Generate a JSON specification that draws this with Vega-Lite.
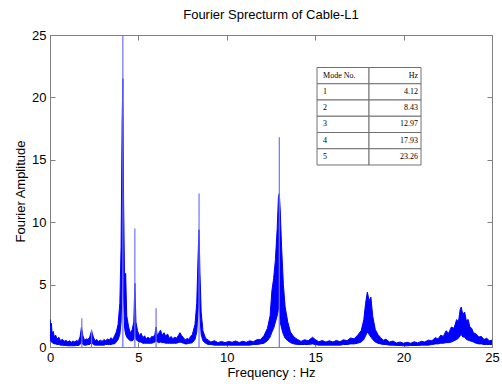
{
  "$schema": "https://vega.github.io/schema/vega-lite/v6.json",
  "width": 442,
  "height": 312,
  "autosize": "none",
  "padding": {"left": 50, "top": 35, "right": 10, "bottom": 42},
  "background": "white",
  "config": {
    "font": "Liberation Sans",
    "view": {"stroke": "#808080", "strokeWidth": 1},
    "axis": {"grid": false, "domainColor": "#808080", "tickColor": "#808080", "labelColor": "black", "titleColor": "black", "labelFont": "Liberation Sans", "titleFont": "Liberation Sans", "labelFontSize": 13, "titleFontSize": 13, "titleFontWeight": "normal", "tickSize": -5}
  },
  "title": {"text": "Fourier Sprecturm of Cable-L1", "font": "Liberation Sans", "fontSize": 13, "fontWeight": "normal", "color": "black", "anchor": "middle", "offset": 7},
  "datasets": {
    "spec": [
      {"f":0.00,"lo":0.6,"hi":2.2},{"f":0.04,"lo":0.5,"hi":1.6},{"f":0.08,"lo":0.4,"hi":1.9},{"f":0.12,"lo":0.35,"hi":1.1},
      {"f":0.18,"lo":0.3,"hi":1.25},{"f":0.25,"lo":0.25,"hi":0.8},{"f":0.32,"lo":0.25,"hi":0.95},{"f":0.40,"lo":0.2,"hi":0.65},
      {"f":0.50,"lo":0.2,"hi":0.78},{"f":0.60,"lo":0.15,"hi":0.5},{"f":0.70,"lo":0.15,"hi":0.62},{"f":0.80,"lo":0.12,"hi":0.45},
      {"f":0.90,"lo":0.12,"hi":0.55},{"f":1.00,"lo":0.1,"hi":0.4},{"f":1.10,"lo":0.1,"hi":0.5},{"f":1.20,"lo":0.1,"hi":0.38},
      {"f":1.30,"lo":0.1,"hi":0.48},{"f":1.40,"lo":0.1,"hi":0.4},{"f":1.50,"lo":0.12,"hi":0.52},{"f":1.60,"lo":0.12,"hi":0.45},
      {"f":1.70,"lo":0.2,"hi":0.8},{"f":1.78,"lo":0.5,"hi":1.6},{"f":1.86,"lo":0.2,"hi":0.9},{"f":1.95,"lo":0.15,"hi":0.55},
      {"f":2.05,"lo":0.15,"hi":0.65},{"f":2.15,"lo":0.2,"hi":0.6},{"f":2.25,"lo":0.2,"hi":0.8},{"f":2.35,"lo":0.4,"hi":1.3},
      {"f":2.45,"lo":0.2,"hi":0.8},{"f":2.55,"lo":0.15,"hi":0.5},{"f":2.65,"lo":0.15,"hi":0.6},{"f":2.75,"lo":0.15,"hi":0.45},
      {"f":2.85,"lo":0.15,"hi":0.55},{"f":2.95,"lo":0.15,"hi":0.45},{"f":3.05,"lo":0.15,"hi":0.6},{"f":3.15,"lo":0.2,"hi":0.5},
      {"f":3.25,"lo":0.2,"hi":0.65},{"f":3.35,"lo":0.2,"hi":0.55},{"f":3.45,"lo":0.2,"hi":0.75},{"f":3.55,"lo":0.25,"hi":0.6},
      {"f":3.65,"lo":0.25,"hi":0.9},{"f":3.75,"lo":0.4,"hi":1.2},{"f":3.85,"lo":0.6,"hi":1.8},{"f":3.95,"lo":1.0,"hi":3.5},
      {"f":4.02,"lo":2.0,"hi":8.0},{"f":4.08,"lo":5.0,"hi":18.0},{"f":4.12,"lo":8.0,"hi":21.5},{"f":4.16,"lo":4.0,"hi":12.0},
      {"f":4.22,"lo":1.5,"hi":5.0},{"f":4.28,"lo":1.0,"hi":5.9},{"f":4.34,"lo":0.8,"hi":2.5},{"f":4.45,"lo":0.6,"hi":1.6},
      {"f":4.55,"lo":0.5,"hi":1.1},{"f":4.65,"lo":0.5,"hi":1.4},{"f":4.74,"lo":0.6,"hi":2.0},{"f":4.80,"lo":1.5,"hi":5.1},
      {"f":4.86,"lo":0.6,"hi":2.0},{"f":4.95,"lo":0.5,"hi":1.3},{"f":5.05,"lo":0.4,"hi":0.9},{"f":5.15,"lo":0.4,"hi":1.1},
      {"f":5.25,"lo":0.3,"hi":0.75},{"f":5.35,"lo":0.3,"hi":0.9},{"f":5.45,"lo":0.3,"hi":0.65},{"f":5.55,"lo":0.3,"hi":0.8},
      {"f":5.65,"lo":0.3,"hi":0.65},{"f":5.75,"lo":0.3,"hi":0.85},{"f":5.85,"lo":0.35,"hi":0.8},{"f":5.93,"lo":0.4,"hi":1.0},
      {"f":6.00,"lo":0.5,"hi":1.6},{"f":6.07,"lo":0.4,"hi":0.9},{"f":6.15,"lo":0.35,"hi":1.1},{"f":6.25,"lo":0.4,"hi":1.35},
      {"f":6.35,"lo":0.35,"hi":0.95},{"f":6.45,"lo":0.35,"hi":1.15},{"f":6.55,"lo":0.3,"hi":0.85},{"f":6.65,"lo":0.3,"hi":1.05},
      {"f":6.75,"lo":0.3,"hi":0.7},{"f":6.85,"lo":0.3,"hi":0.85},{"f":6.95,"lo":0.3,"hi":0.65},{"f":7.05,"lo":0.3,"hi":0.8},
      {"f":7.15,"lo":0.3,"hi":0.7},{"f":7.25,"lo":0.35,"hi":0.9},{"f":7.35,"lo":0.4,"hi":1.15},{"f":7.45,"lo":0.35,"hi":0.9},
      {"f":7.55,"lo":0.3,"hi":0.75},{"f":7.65,"lo":0.25,"hi":0.55},{"f":7.75,"lo":0.25,"hi":0.7},{"f":7.85,"lo":0.3,"hi":0.6},
      {"f":7.95,"lo":0.3,"hi":0.85},{"f":8.05,"lo":0.35,"hi":1.0},
      {"f":8.20,"lo":0.6,"hi":1.8},{"f":8.30,"lo":1.2,"hi":3.5},{"f":8.38,"lo":3.0,"hi":7.5},{"f":8.43,"lo":5.0,"hi":9.4},
      {"f":8.48,"lo":2.5,"hi":6.0},{"f":8.55,"lo":1.0,"hi":2.8},{"f":8.65,"lo":0.5,"hi":1.3},{"f":8.80,"lo":0.3,"hi":0.7},
      {"f":8.95,"lo":0.2,"hi":0.55},{"f":9.10,"lo":0.2,"hi":0.4},{"f":9.30,"lo":0.15,"hi":0.5},{"f":9.50,"lo":0.15,"hi":0.35},
      {"f":9.70,"lo":0.15,"hi":0.45},{"f":9.90,"lo":0.15,"hi":0.35},{"f":10.10,"lo":0.15,"hi":0.45},{"f":10.30,"lo":0.15,"hi":0.38},
      {"f":10.50,"lo":0.15,"hi":0.48},{"f":10.70,"lo":0.15,"hi":0.36},{"f":10.90,"lo":0.15,"hi":0.46},{"f":11.10,"lo":0.15,"hi":0.38},
      {"f":11.30,"lo":0.15,"hi":0.5},{"f":11.50,"lo":0.2,"hi":0.42},{"f":11.70,"lo":0.2,"hi":0.58},{"f":11.90,"lo":0.25,"hi":0.6},
      {"f":12.10,"lo":0.3,"hi":0.9},{"f":12.30,"lo":0.5,"hi":1.5},{"f":12.45,"lo":0.8,"hi":2.5},
      {"f":12.55,"lo":1.2,"hi":4.5},{"f":12.65,"lo":1.5,"hi":5.5},{"f":12.75,"lo":2.0,"hi":7.0},{"f":12.85,"lo":2.5,"hi":9.5},
      {"f":12.92,"lo":3.0,"hi":12.0},{"f":12.97,"lo":3.5,"hi":12.3},{"f":13.02,"lo":2.0,"hi":11.0},{"f":13.10,"lo":1.5,"hi":8.0},
      {"f":13.20,"lo":1.0,"hi":5.0},{"f":13.30,"lo":0.7,"hi":3.2},{"f":13.45,"lo":0.5,"hi":2.0},{"f":13.60,"lo":0.35,"hi":1.2},
      {"f":13.80,"lo":0.25,"hi":0.8},{"f":14.00,"lo":0.2,"hi":0.6},{"f":14.20,"lo":0.2,"hi":0.45},{"f":14.40,"lo":0.2,"hi":0.58},
      {"f":14.60,"lo":0.2,"hi":0.5},{"f":14.85,"lo":0.25,"hi":0.78},{"f":15.00,"lo":0.2,"hi":0.6},{"f":15.20,"lo":0.15,"hi":0.42},
      {"f":15.40,"lo":0.15,"hi":0.52},{"f":15.60,"lo":0.15,"hi":0.4},{"f":15.80,"lo":0.15,"hi":0.5},{"f":16.00,"lo":0.15,"hi":0.4},
      {"f":16.20,"lo":0.15,"hi":0.52},{"f":16.40,"lo":0.15,"hi":0.42},{"f":16.60,"lo":0.2,"hi":0.58},{"f":16.80,"lo":0.2,"hi":0.5},
      {"f":17.00,"lo":0.25,"hi":0.72},{"f":17.20,"lo":0.25,"hi":0.65},{"f":17.40,"lo":0.3,"hi":0.95},
      {"f":17.60,"lo":0.4,"hi":1.3},{"f":17.75,"lo":0.6,"hi":2.2},{"f":17.85,"lo":0.9,"hi":3.5},
      {"f":17.95,"lo":1.2,"hi":4.4},{"f":18.05,"lo":1.0,"hi":3.7},{"f":18.15,"lo":0.8,"hi":4.0},{"f":18.25,"lo":0.6,"hi":2.5},
      {"f":18.40,"lo":0.4,"hi":1.4},{"f":18.55,"lo":0.3,"hi":1.0},{"f":18.70,"lo":0.25,"hi":0.75},{"f":18.85,"lo":0.2,"hi":0.55},
      {"f":19.00,"lo":0.2,"hi":0.62},{"f":19.20,"lo":0.15,"hi":0.4},{"f":19.40,"lo":0.15,"hi":0.48},{"f":19.60,"lo":0.12,"hi":0.32},
      {"f":19.80,"lo":0.12,"hi":0.4},{"f":20.00,"lo":0.1,"hi":0.3},{"f":20.20,"lo":0.1,"hi":0.38},{"f":20.40,"lo":0.12,"hi":0.3},
      {"f":20.60,"lo":0.12,"hi":0.42},{"f":20.80,"lo":0.12,"hi":0.33},{"f":21.00,"lo":0.15,"hi":0.45},{"f":21.20,"lo":0.15,"hi":0.4},
      {"f":21.40,"lo":0.15,"hi":0.55},{"f":21.60,"lo":0.2,"hi":0.5},{"f":21.80,"lo":0.25,"hi":0.75},{"f":21.95,"lo":0.25,"hi":0.65},
      {"f":22.10,"lo":0.3,"hi":0.95},{"f":22.25,"lo":0.3,"hi":0.85},{"f":22.40,"lo":0.35,"hi":1.3},{"f":22.55,"lo":0.35,"hi":1.1},
      {"f":22.70,"lo":0.4,"hi":1.6},{"f":22.85,"lo":0.5,"hi":1.5},{"f":23.00,"lo":0.6,"hi":2.2},{"f":23.10,"lo":0.7,"hi":2.0},
      {"f":23.20,"lo":0.9,"hi":3.0},{"f":23.26,"lo":1.0,"hi":3.2},{"f":23.35,"lo":0.8,"hi":2.6},{"f":23.45,"lo":0.8,"hi":2.8},
      {"f":23.55,"lo":0.6,"hi":2.1},{"f":23.65,"lo":0.55,"hi":2.2},{"f":23.75,"lo":0.5,"hi":1.6},{"f":23.85,"lo":0.45,"hi":1.5},
      {"f":23.95,"lo":0.4,"hi":1.15},{"f":24.10,"lo":0.3,"hi":1.05},{"f":24.25,"lo":0.25,"hi":0.8},{"f":24.40,"lo":0.25,"hi":0.85},
      {"f":24.55,"lo":0.2,"hi":0.6},{"f":24.70,"lo":0.2,"hi":0.7},{"f":24.85,"lo":0.2,"hi":0.5},{"f":25.00,"lo":0.2,"hi":0.55}
    ],
    "spikes": [
      {"f":1.8,"peak":2.3,"base":0},{"f":2.35,"peak":1.4,"base":0},{"f":4.12,"peak":25,"base":0},{"f":4.8,"peak":9.5,"base":0},
      {"f":6.0,"peak":3.1,"base":0},{"f":8.43,"peak":12.3,"base":0},{"f":12.97,"peak":16.8,"base":0}
    ],
    "table": [
      {"row":"h","col":"mode","val":"Mode No."},{"row":"h","col":"hz","val":"Hz"},
      {"row":"1","col":"mode","val":"1"},{"row":"1","col":"hz","val":"4.12"},
      {"row":"2","col":"mode","val":"2"},{"row":"2","col":"hz","val":"8.43"},
      {"row":"3","col":"mode","val":"3"},{"row":"3","col":"hz","val":"12.97"},
      {"row":"4","col":"mode","val":"4"},{"row":"4","col":"hz","val":"17.93"},
      {"row":"5","col":"mode","val":"5"},{"row":"5","col":"hz","val":"23.26"}
    ]
  },
  "layer": [
    {
      "data": {"name": "spec"},
      "mark": {"type": "area", "color": "#0000ff", "clip": true, "stroke": "#0000ff", "strokeWidth": 1},
      "encoding": {
        "x": {"field": "f", "type": "quantitative", "scale": {"domain": [0, 25], "nice": false},
              "axis": {"orient": "bottom", "title": "Frequency : Hz", "values": [0,5,10,15,20,25], "labelPadding": 9, "titlePadding": 2, "labelFlush": false}},
        "y": {"field": "lo", "type": "quantitative", "scale": {"domain": [0, 25], "nice": false},
              "axis": {"orient": "left", "title": "Fourier Amplitude", "values": [0,5,10,15,20,25], "labelPadding": 9, "titlePadding": 4}},
        "y2": {"field": "hi"}
      }
    },
    {
      "data": {"name": "spikes"},
      "mark": {"type": "rule", "color": "#7070ff", "strokeWidth": 1.2, "clip": true},
      "encoding": {
        "x": {"field": "f", "type": "quantitative", "scale": {"domain": [0, 25], "nice": false},
              "axis": {"orient": "top", "labels": false, "title": null, "values": [0,5,10,15,20,25]}},
        "y": {"field": "peak", "type": "quantitative", "scale": {"domain": [0, 25], "nice": false},
              "axis": {"orient": "right", "labels": false, "title": null, "values": [0,5,10,15,20,25]}},
        "y2": {"field": "base"}
      }
    },
    {
      "data": {"name": "table"},
      "mark": {"type": "rect", "fill": "white", "stroke": "#707070", "strokeWidth": 1},
      "encoding": {
        "x": {"field": "col", "type": "nominal", "axis": null,
              "scale": {"type": "band", "domain": ["c1", "c2", "c3", "c4", "c5", "mode", "hz", "c6"], "paddingInner": 0, "paddingOuter": 0.25, "align": 0.27}},
        "y": {"field": "row", "type": "nominal", "axis": null,
              "scale": {"type": "band", "domain": ["r1", "r2", "h", "1", "2", "3", "4", "5", "r3", "r4", "r5", "r6", "r7", "r8", "r9", "r10", "r11", "r12", "r13"], "paddingInner": 0, "paddingOuter": 0.1, "align": 0}}
      }
    },
    {
      "data": {"name": "table"},
      "transform": [{"filter": "datum.col === 'mode'"}],
      "mark": {"type": "text", "align": "left", "dx": 6, "font": "Liberation Serif", "fontSize": 8, "color": "black"},
      "encoding": {
        "x": {"field": "col", "type": "nominal", "bandPosition": 0, "axis": null,
              "scale": {"type": "band", "domain": ["c1", "c2", "c3", "c4", "c5", "mode", "hz", "c6"], "paddingInner": 0, "paddingOuter": 0.25, "align": 0.27}},
        "y": {"field": "row", "type": "nominal", "axis": null,
              "scale": {"type": "band", "domain": ["r1", "r2", "h", "1", "2", "3", "4", "5", "r3", "r4", "r5", "r6", "r7", "r8", "r9", "r10", "r11", "r12", "r13"], "paddingInner": 0, "paddingOuter": 0.1, "align": 0}},
        "text": {"field": "val"}
      }
    },
    {
      "data": {"name": "table"},
      "transform": [{"filter": "datum.col === 'hz'"}],
      "mark": {"type": "text", "align": "right", "dx": -3, "font": "Liberation Serif", "fontSize": 8, "color": "black"},
      "encoding": {
        "x": {"field": "col", "type": "nominal", "bandPosition": 1, "axis": null,
              "scale": {"type": "band", "domain": ["c1", "c2", "c3", "c4", "c5", "mode", "hz", "c6"], "paddingInner": 0, "paddingOuter": 0.25, "align": 0.27}},
        "y": {"field": "row", "type": "nominal", "axis": null,
              "scale": {"type": "band", "domain": ["r1", "r2", "h", "1", "2", "3", "4", "5", "r3", "r4", "r5", "r6", "r7", "r8", "r9", "r10", "r11", "r12", "r13"], "paddingInner": 0, "paddingOuter": 0.1, "align": 0}},
        "text": {"field": "val"}
      }
    }
  ],
  "resolve": {"scale": {"x": "independent", "y": "independent"}}
}
